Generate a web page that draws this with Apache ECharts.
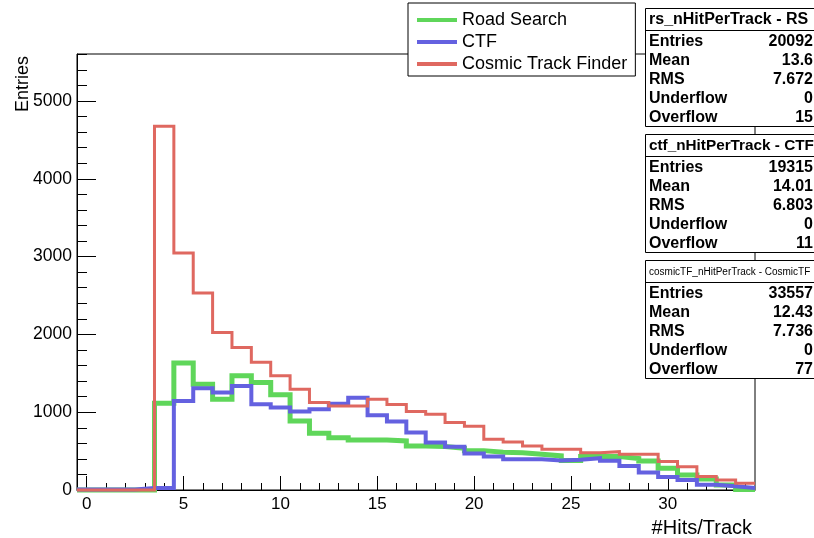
<!DOCTYPE html>
<html><head><meta charset="utf-8">
<script src="https://cdn.jsdelivr.net/npm/echarts@6/dist/echarts.min.js"></script>
<style>html,body{margin:0;padding:0;background:#fff}#c{width:814px;height:538px}</style>
</head><body><div id="c"></div>
<script>
// ---- data ----
const binCenters = [0,1,2,3,4,5,6,7,8,9,10,11,12,13,14,15,16,17,18,19,20,21,22,23,24,25,26,27,28,29,30,31,32,33,34];
const seriesNames = ['Road Search','CTF','Cosmic Track Finder'];
const roadSearch = [0,0,0,0,1116,1631,1360,1167,1467,1381,1223,888,729,673,644,644,631,566,558,536,506,485,480,459,438,380,429,429,405,373,279,193,142,64,8];
const ctf = [5,5,5,25,25,1145,1309,1253,1338,1103,1060,1008,1038,1110,1185,960,879,740,609,555,468,429,395,395,380,390,408,375,310,226,167,129,68,47,25];
const cosmicTF = [0,0,0,0,4676,3046,2531,2025,1832,1643,1467,1296,1124,1081,1081,1167,1100,1008,974,868,820,652,616,566,523,523,480,493,459,459,365,300,172,129,86];
const xMajorTicks = [0,5,10,15,20,25,30];
const xMinorTicks = [0,1,2,3,4,5,6,7,8,9,10,11,12,13,14,15,16,17,18,19,20,21,22,23,24,25,26,27,28,29,30,31,32,33,34];
const yMajorTicks = [0,1000,2000,3000,4000,5000];
const yMinorTicks = [0,200,400,600,800,1000,1200,1400,1600,1800,2000,2200,2400,2600,2800,3000,3200,3400,3600,3800,4000,4200,4400,4600,4800,5000,5200,5400,5600];
const xMin = -0.5, xMax = 34.5, yMin = 0, yMax = 5604;
const xTitle = '#Hits/Track';
const yTitle = 'Entries';
const statTitles = ['rs_nHitPerTrack - RS','ctf_nHitPerTrack - CTF','cosmicTF_nHitPerTrack - CosmicTF'];
const statLabels = ['Entries','Mean','RMS','Underflow','Overflow'];
const statValues = [
  ['20092','13.6','7.672','0','15'],
  ['19315','14.01','6.803','0','11'],
  ['33557','12.43','7.736','0','77']
];

// ---- styling ----
const FONT = '"Liberation Sans", Arial, Helvetica, sans-serif';
const colors = ['#5fd65a','#6461e0','#df6860'];
const widths = [5,4,3];
const titleFonts = ['bold 16px ','bold 15.3px ','10px '];

function stepPoints(values){
  const pts = [];
  values.forEach((v,i)=>{ pts.push([binCenters[i]-0.5, v]); pts.push([binCenters[i]+0.5, v]); });
  return pts;
}
const allSeries = [roadSearch, ctf, cosmicTF];

const graphics = [];
graphics.push({type:'text', x:752, y:528, z:100, style:{text:xTitle, font:'20px '+FONT, fill:'#000', align:'right', verticalAlign:'middle'}});
graphics.push({type:'text', x:23.5, y:56, rotation:Math.PI/2, z:100, style:{text:yTitle, font:'18px '+FONT, fill:'#000', align:'right', verticalAlign:'middle'}});
const boxTops = [8,134,260];
statTitles.forEach((t,i)=>{
  const top = boxTops[i] + 0.5;
  graphics.push({type:'rect', z:100, shape:{x:645.5, y:top, width:200, height:118}, style:{fill:'#fff', stroke:'#000', lineWidth:1}});
  graphics.push({type:'line', z:101, shape:{x1:645.5, y1:top+22, x2:845, y2:top+22}, style:{stroke:'#000', lineWidth:1}});
  graphics.push({type:'text', z:102, x:649, y:top+11.5, style:{text:t, font:titleFonts[i]+FONT, fill:'#000', align:'left', verticalAlign:'middle'}});
  statLabels.forEach((lab,j)=>{
    const y = top + 33 + 19*j;
    graphics.push({type:'text', z:102, x:649, y:y, style:{text:lab, font:'bold 16px '+FONT, fill:'#000', align:'left', verticalAlign:'middle'}});
    graphics.push({type:'text', z:102, x:813, y:y, style:{text:statValues[i][j], font:'bold 16px '+FONT, fill:'#000', align:'right', verticalAlign:'middle'}});
  });
});

const chart = echarts.init(document.getElementById('c'), null, {renderer:'canvas'});
chart.setOption({
  animation:false,
  backgroundColor:'#fff',
  textStyle:{fontFamily:FONT},
  grid:{left:77, right:59, top:54, bottom:48, show:true, borderColor:'#000', borderWidth:1, backgroundColor:'transparent', containLabel:false},
  legend:{
    orient:'vertical', left:408, top:3, padding:[8,8,3,9], itemWidth:40, itemHeight:4, itemGap:4,
    icon:'rect', backgroundColor:'#fff', borderColor:'#000', borderWidth:1, borderRadius:0, z:50,
    textStyle:{fontSize:18, color:'#000', fontFamily:FONT}, data:seriesNames
  },
  xAxis:[
    {type:'value', min:xMin, max:xMax, position:'bottom',
     axisLine:{show:true, onZero:false, lineStyle:{color:'#000', width:1}},
     axisTick:{show:true, inside:true, length:14, customValues:xMajorTicks, lineStyle:{color:'#000', width:1}},
     axisLabel:{show:true, customValues:xMajorTicks, fontSize:17, color:'#000', margin:6, fontFamily:FONT, formatter:v=>String(v)},
     splitLine:{show:false}},
    {type:'value', min:xMin, max:xMax, position:'bottom',
     axisLine:{show:false, onZero:false},
     axisTick:{show:true, inside:true, length:7, customValues:xMinorTicks, lineStyle:{color:'#000', width:1}},
     axisLabel:{show:false}, splitLine:{show:false}}
  ],
  yAxis:[
    {type:'value', min:yMin, max:yMax, position:'left',
     axisLine:{show:true, onZero:false, lineStyle:{color:'#000', width:1}},
     axisTick:{show:true, inside:true, length:19, customValues:yMajorTicks, lineStyle:{color:'#000', width:1}},
     axisLabel:{show:true, customValues:yMajorTicks, fontSize:17.5, color:'#000', margin:5, fontFamily:FONT, formatter:v=>String(v)},
     splitLine:{show:false}},
    {type:'value', min:yMin, max:yMax, position:'left',
     axisLine:{show:false, onZero:false},
     axisTick:{show:true, inside:true, length:10, customValues:yMinorTicks, lineStyle:{color:'#000', width:1}},
     axisLabel:{show:false}, splitLine:{show:false}}
  ],
  series: allSeries.map((vals,i)=>({
    name:seriesNames[i], type:'line', xAxisIndex:0, yAxisIndex:0,
    data:stepPoints(vals), showSymbol:false, symbol:'none', color:colors[i],
    lineStyle:{color:colors[i], width:widths[i], cap:'butt', join:'miter'},
    z:2+i, clip:false
  })),
  graphic: graphics
});
</script></body></html>
